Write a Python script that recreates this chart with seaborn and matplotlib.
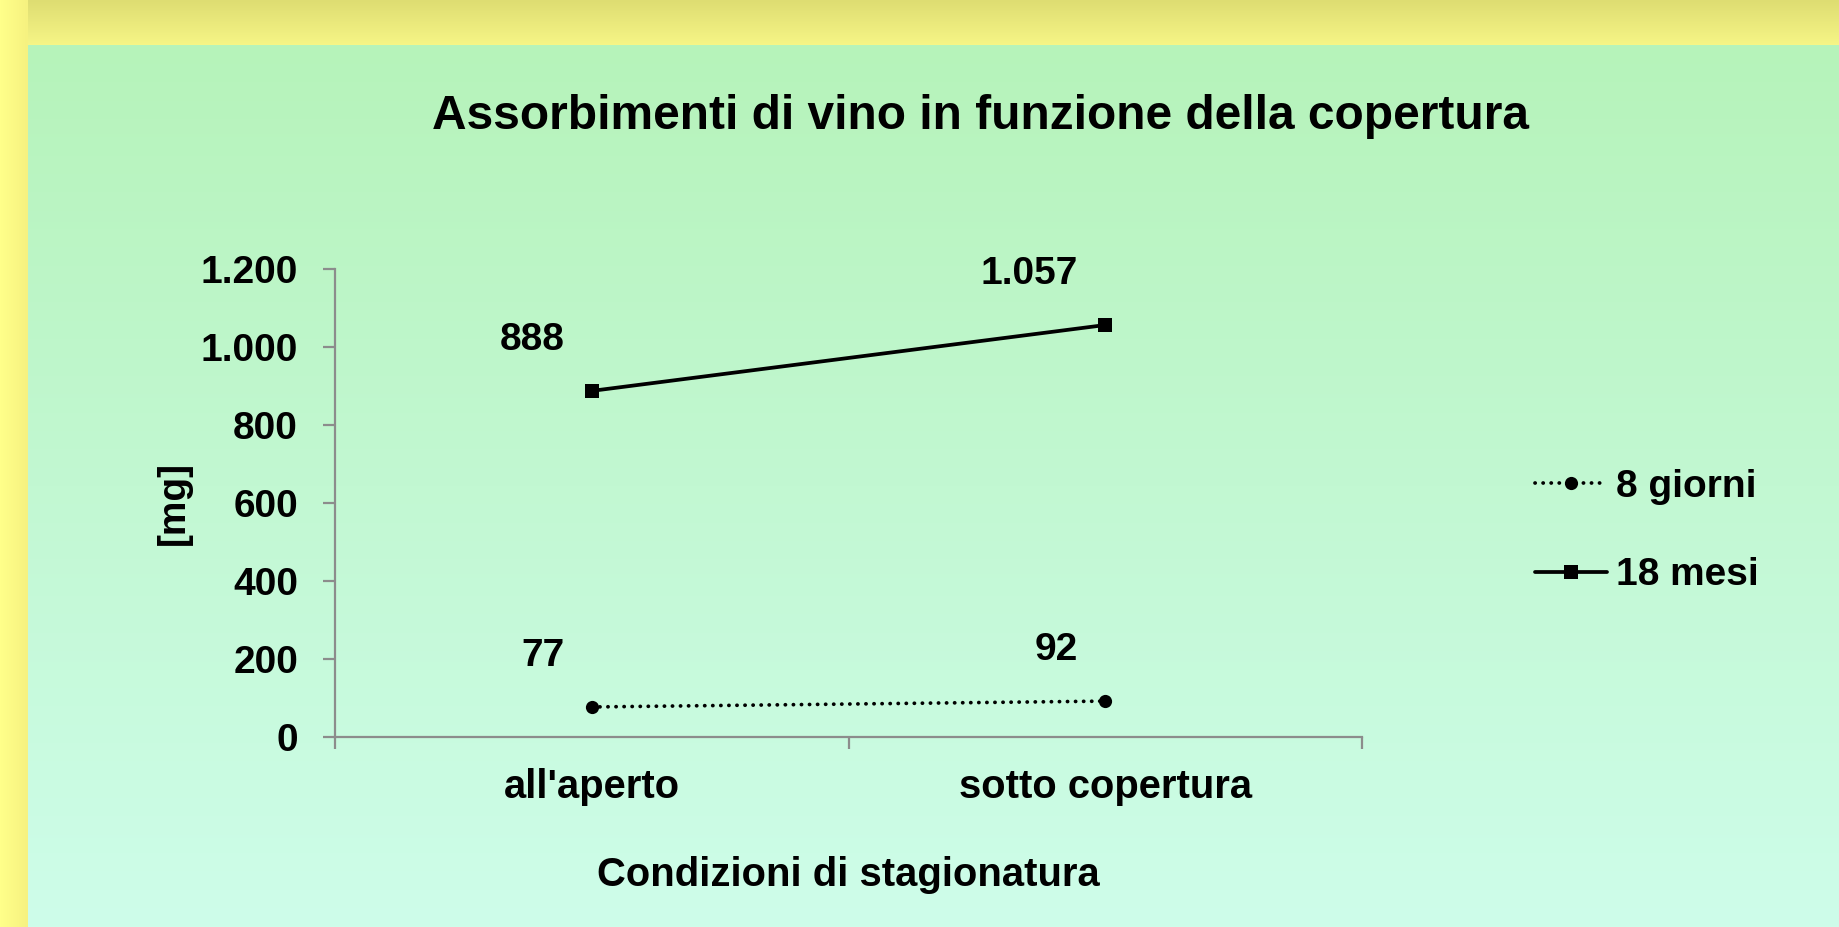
"""
Assorbimenti di vino in funzione della copertura
Liniendiagramm: 8 giorni vs 18 mesi, zwei Stagionatura-Bedingungen.
"""

import numpy as np
import pandas as pd
import matplotlib
matplotlib.use("Agg")
import matplotlib.pyplot as plt
from matplotlib.ticker import FuncFormatter
import seaborn as sns

# --- Daten ---
CONDIZIONI = ["all'aperto", "sotto copertura"]
SERIE = ["8 giorni", "18 mesi"]
VAL_8_GIORNI = [77, 92]
VAL_18_MESI = [888, 1057]

TITOLO = "Assorbimenti di vino in funzione della copertura"
X_LABEL = "Condizioni di stagionatura"
Y_LABEL = "[mg]"
Y_TICKS = [0, 200, 400, 600, 800, 1000, 1200]

W, H = 1840, 927
FONT = ["Liberation Sans", "DejaVu Sans"]
FS = 28      # Schriftgröße y-Achse/Legende/Werte
FS_X = 28.8  # Schriftgröße x-Achse


def it_fmt(v, pos=None):
    return f"{v:,.0f}".replace(",", ".")


def build_background() -> np.ndarray:
    """Gelber Rahmen + grünes Panel mit vertikalem Verlauf."""
    img = np.zeros((H, W, 3))
    img[:, :] = np.array([255, 255, 138]) / 255
    # leichter Schatten links neben dem Panel
    for i, c in enumerate(np.linspace(0, 1, 28)):
        img[:, i] = (np.array([255, 255, 138]) * (1 - c) + np.array([246, 242, 128]) * c) / 255
    # oberer Streifen mit Verlauf
    top = np.linspace(0, 1, 45)[:, None]
    c0 = np.array([222, 221, 114]) / 255
    c1 = np.array([246, 245, 134]) / 255
    img[:45, 28:] = (c0 * (1 - top) + c1 * top)[:, None, :]
    # grünes Panel
    t = np.linspace(0, 1, H - 45)[:, None]
    g0 = np.array([182, 243, 186]) / 255
    g1 = np.array([206, 253, 234]) / 255
    img[45:, 28:] = (g0 * (1 - t) + g1 * t)[:, None, :]
    return img


def main():
    sns.set_theme(style="white")
    plt.rcParams["font.family"] = FONT
    plt.rcParams["font.weight"] = "bold"
    plt.rcParams["text.color"] = "black"
    plt.rcParams["axes.labelcolor"] = "black"
    plt.rcParams["xtick.color"] = "black"
    plt.rcParams["ytick.color"] = "black"

    df = pd.DataFrame({
        "condizione": CONDIZIONI * 2,
        "mg": VAL_8_GIORNI + VAL_18_MESI,
        "serie": [SERIE[0]] * 2 + [SERIE[1]] * 2,
    })

    fig = plt.figure(figsize=(W / 100, H / 100), dpi=100)
    bg = fig.add_axes([0, 0, 1, 1])
    bg.imshow(build_background(), aspect="auto", interpolation="bilinear")
    bg.set_axis_off()

    ax = fig.add_axes([0.1821, 0.2050, 0.5581, 0.5045])
    ax.patch.set_alpha(0)

    sns.lineplot(
        data=df, x="condizione", y="mg", style="serie", ax=ax,
        color="black", linewidth=2.7,
        markers={"8 giorni": "o", "18 mesi": "s"},
        dashes={"8 giorni": (0.05, 2.1), "18 mesi": ""},
        dash_capstyle="round",
        markersize=9.5, markeredgewidth=0,
        style_order=SERIE,
    )

    # Datenbeschriftungen
    for serie, vals in zip(SERIE, [VAL_8_GIORNI, VAL_18_MESI]):
        for i, v in enumerate(vals):
            ax.annotate(it_fmt(v), (i, v), xytext=(-19.5, 36.5), textcoords="offset points",
                        ha="right", va="center", fontsize=FS, fontweight="bold",
                        color="black")

    ax.set_xlim(-0.5, 1.5)
    ax.set_ylim(0, 1200)
    ax.set_yticks(Y_TICKS)
    ax.yaxis.set_major_formatter(FuncFormatter(it_fmt))
    ax.set_xticks([0, 1])
    ax.set_xticklabels(CONDIZIONI)
    ax.set_xticks([-0.5, 0.5, 1.5], minor=True)

    for s in ["top", "right"]:
        ax.spines[s].set_visible(False)
    for s in ["left", "bottom"]:
        ax.spines[s].set_color("#8c8c8c")
        ax.spines[s].set_linewidth(1.6)

    ax.tick_params(axis="y", which="major", length=8.6, width=1.6, color="#8c8c8c",
                   labelcolor="black", pad=18, labelsize=FS, left=True)
    ax.tick_params(axis="x", which="major", length=0, pad=22, labelsize=FS_X,
                   labelcolor="black")
    ax.tick_params(axis="x", which="minor", length=8.6, width=1.6, color="#8c8c8c",
                   bottom=True)
    for lab in ax.get_xticklabels() + ax.get_yticklabels():
        lab.set_fontweight("bold")

    ax.set_xlabel(X_LABEL, fontsize=FS_X, fontweight="bold", labelpad=36.5, color="black")
    ax.set_ylabel(Y_LABEL, fontsize=FS, fontweight="bold", labelpad=6.5, color="black")

    fig.text(0.533, 0.874, TITOLO, ha="center", va="center",
             fontsize=34.5, fontweight="bold", color="black")

    leg = ax.legend(loc="center left", bbox_to_anchor=(1.134, 0.44), frameon=False,
                    fontsize=FS, handlelength=1.85, handletextpad=0.25,
                    labelspacing=1.35, borderaxespad=0.5, title=None)
    for t in leg.get_texts():
        t.set_fontweight("bold")
        t.set_color("black")

    fig.savefig("out.png", dpi=100)
    plt.close(fig)


if __name__ == "__main__":
    main()
